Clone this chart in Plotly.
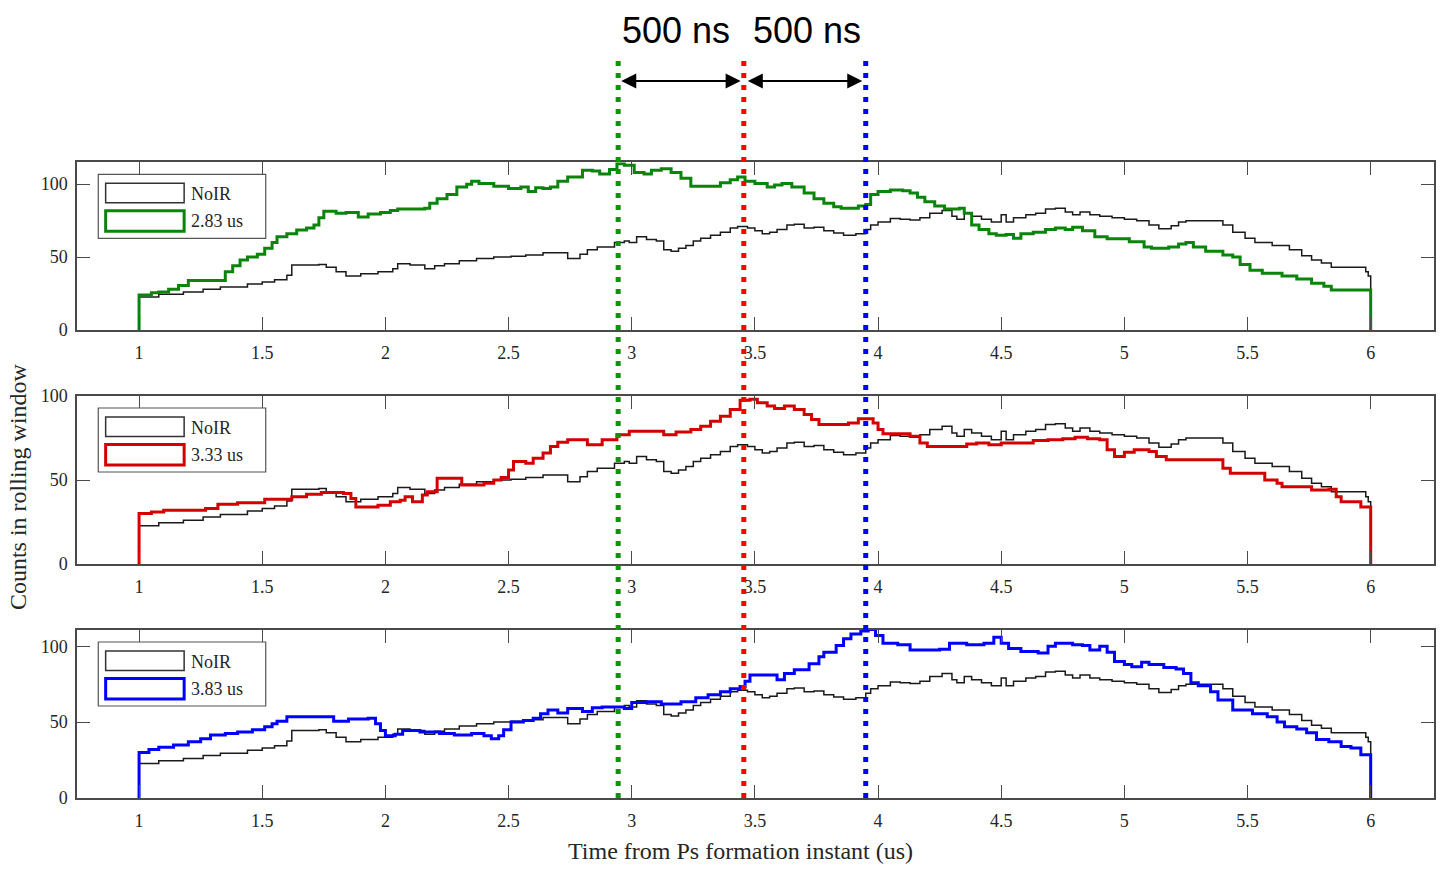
import plotly.graph_objects as go

# ---------------- data ----------------
NOIR_T = [1.00, 1.00, 1.08, 1.18, 1.26, 1.33, 1.44, 1.50, 1.55, 1.60, 1.62, 1.73, 1.76, 1.80, 1.84,
          1.90, 1.97, 2.03, 2.05, 2.10, 2.16, 2.20, 2.24, 2.30, 2.37, 2.44, 2.51, 2.57, 2.64, 2.70,
          2.74, 2.79, 2.82, 2.86, 2.93, 2.97, 2.99, 3.02, 3.06, 3.10, 3.13, 3.16, 3.19, 3.22, 3.25,
          3.28, 3.32, 3.36, 3.40, 3.43, 3.47, 3.50, 3.53, 3.56, 3.59, 3.63, 3.66, 3.70, 3.74, 3.78,
          3.82, 3.86, 3.91, 3.95, 3.97, 4.00, 4.05, 4.09, 4.13, 4.17, 4.21, 4.26, 4.30, 4.32, 4.35,
          4.38, 4.42, 4.46, 4.50, 4.52, 4.55, 4.60, 4.64, 4.68, 4.72, 4.76, 4.79, 4.82, 4.86, 4.90,
          4.95, 5.00, 5.05, 5.10, 5.14, 5.19, 5.22, 5.25, 5.36, 5.40, 5.44, 5.49, 5.53, 5.60, 5.67,
          5.72, 5.76, 5.80, 5.84, 5.97, 5.98, 5.99, 6.00]
NOIR_V = [0, 22.7, 24.5, 26, 28, 29.5, 31.5, 33, 34.5, 37.5, 44.5, 45, 43, 40, 37,
          38.5, 40, 42, 45.5, 44.5, 42, 44, 45.5, 47.5, 49, 50, 50.5, 51.5, 53, 53,
          49, 52, 55, 57, 60, 61, 60, 64, 62, 61, 55, 54, 56, 58, 61,
          63, 65, 67, 70, 71, 70, 68, 66, 67, 69, 72, 72.5, 70, 70.5, 68,
          66.5, 65, 66, 69, 72, 74, 76.5, 76, 75.5, 77, 80, 82, 78, 76, 80,
          78, 76, 74, 79, 74, 77, 79, 80, 83, 83.5, 81, 79, 81, 79, 78,
          77, 76, 75, 72, 69.5, 71.5, 74, 75, 75, 72, 67, 63, 60, 58, 55,
          51, 48, 46, 43, 43, 40, 37, 0]

G_T = [1.00, 1.00, 1.05, 1.08, 1.12, 1.16, 1.20, 1.33, 1.35, 1.38, 1.41, 1.44, 1.48, 1.51, 1.54,
       1.56, 1.60, 1.64, 1.68, 1.71, 1.73, 1.75, 1.80, 1.84, 1.89, 1.93, 1.98, 2.02, 2.05, 2.16,
       2.18, 2.21, 2.25, 2.29, 2.33, 2.35, 2.38, 2.44, 2.50, 2.55, 2.58, 2.61, 2.64, 2.67, 2.70,
       2.74, 2.80, 2.84, 2.87, 2.91, 2.94, 2.97, 3.01, 3.05, 3.08, 3.12, 3.16, 3.20, 3.24, 3.32,
       3.36, 3.40, 3.43, 3.46, 3.50, 3.55, 3.58, 3.61, 3.65, 3.70, 3.74, 3.78, 3.82, 3.85, 3.92,
       3.95, 3.97, 4.00, 4.05, 4.10, 4.13, 4.16, 4.19, 4.23, 4.27, 4.33, 4.35, 4.38, 4.41, 4.45,
       4.48, 4.52, 4.55, 4.58, 4.63, 4.68, 4.72, 4.76, 4.79, 4.83, 4.88, 4.93, 5.02, 5.08, 5.11,
       5.18, 5.22, 5.25, 5.28, 5.33, 5.40, 5.44, 5.47, 5.51, 5.56, 5.64, 5.70, 5.76, 5.81, 5.84,
       6.00]
G_V = [0, 24, 25.5, 26, 28, 30.5, 34, 34, 40, 44, 48, 50, 52, 56, 60,
       64, 66, 68.5, 70, 72, 77, 81.5, 80, 80.5, 77.5, 79.5, 80.5, 82, 83, 83.5,
       87, 90, 93, 98, 100, 102, 100.5, 98.5, 97, 98, 95, 97.5, 97, 98, 102,
       105, 109.5, 109, 107, 110, 114, 113, 108, 107, 109.5, 110.5, 108, 104, 98.5, 98.5,
       101, 103, 105, 102, 100.5, 98, 99.5, 100.5, 98, 94, 90, 87, 84.5, 83.5, 85,
       86, 93, 95, 96, 95.5, 94, 91, 88, 85, 83, 83.5, 80, 72, 69, 66,
       65, 65.5, 63, 66, 67, 69, 70, 69, 70.5, 68, 64, 62.5, 60.5, 57, 56,
       57, 59, 60, 57, 54, 51.5, 50, 45, 41, 39, 37, 35, 32, 30, 27.5,
       0]

R_T = [1.00, 1.00, 1.05, 1.10, 1.27, 1.32, 1.40, 1.51, 1.62, 1.68, 1.74, 1.83, 1.86, 1.88, 1.97,
       2.02, 2.06, 2.08, 2.11, 2.15, 2.17, 2.21, 2.28, 2.31, 2.40, 2.44, 2.47, 2.50, 2.52, 2.57,
       2.60, 2.64, 2.67, 2.70, 2.74, 2.80, 2.82, 2.88, 2.94, 2.99, 3.13, 3.18, 3.24, 3.28, 3.32,
       3.36, 3.40, 3.44, 3.48, 3.51, 3.55, 3.58, 3.62, 3.66, 3.70, 3.73, 3.76, 3.88, 3.92, 3.98,
       4.00, 4.02, 4.13, 4.17, 4.20, 4.36, 4.40, 4.45, 4.50, 4.63, 4.69, 4.75, 4.80, 4.85, 4.90,
       4.93, 4.96, 5.00, 5.04, 5.10, 5.13, 5.17, 5.37, 5.40, 5.43, 5.57, 5.62, 5.64, 5.76, 5.83,
       5.86, 5.88, 5.96, 6.00]
R_V = [0, 30, 31, 32, 33, 35.5, 36.5, 38.5, 40, 41.5, 42.5, 42, 39, 34, 35,
       37, 38, 40, 37, 41, 43, 51, 51, 47, 48, 50, 51.5, 56, 61, 60,
       63, 66, 70, 72.5, 74, 74, 71, 74, 77, 79, 77, 78.5, 80, 82, 85,
       88, 92, 97.5, 98, 96, 94, 92.5, 94, 92, 89, 86, 83, 84, 86.5, 84,
       80, 77.5, 76, 72, 70, 71.5, 72, 71, 72, 73.5, 74, 74.5, 75.5, 74.5, 74,
       68, 64, 66.5, 68, 67, 64, 62, 62, 57, 54, 50, 48, 46, 44, 44.5,
       40, 37, 34, 0]

B_T = [1.00, 1.00, 1.04, 1.08, 1.14, 1.20, 1.25, 1.29, 1.35, 1.40, 1.46, 1.51, 1.54, 1.56, 1.60,
       1.77, 1.79, 1.85, 1.93, 1.96, 1.98, 2.00, 2.04, 2.07, 2.14, 2.22, 2.28, 2.35, 2.40, 2.43,
       2.46, 2.48, 2.51, 2.56, 2.60, 2.63, 2.66, 2.70, 2.74, 2.80, 2.84, 2.88, 2.97, 3.00, 3.06,
       3.12, 3.20, 3.26, 3.31, 3.36, 3.40, 3.44, 3.46, 3.48, 3.55, 3.59, 3.62, 3.66, 3.72, 3.76,
       3.78, 3.83, 3.86, 3.89, 3.93, 3.96, 3.99, 4.02, 4.08, 4.13, 4.18, 4.25, 4.29, 4.36, 4.43,
       4.47, 4.50, 4.53, 4.58, 4.65, 4.69, 4.72, 4.79, 4.83, 4.86, 4.90, 4.93, 4.96, 5.00, 5.03,
       5.07, 5.10, 5.16, 5.21, 5.24, 5.27, 5.30, 5.35, 5.38, 5.44, 5.52, 5.58, 5.62, 5.65, 5.70,
       5.74, 5.78, 5.83, 5.88, 5.92, 5.96, 6.00]
B_V = [0, 30, 32, 33.5, 35, 37, 39, 41.5, 42.5, 43.5, 45, 47, 49, 50.5, 53.5,
       53.5, 50.5, 52, 52.5, 49, 44.5, 41, 42, 44.5, 43.5, 42.5, 41.5, 42.5, 41, 39,
       41, 45, 50, 51, 52.5, 55.5, 58, 56, 59, 57, 59.5, 60, 59, 63, 63.5,
       62, 63.5, 66, 68, 70, 72, 73.5, 77, 81, 81, 78, 82, 84.5, 88.5, 93,
       96, 100.5, 105, 108, 110, 111, 107, 102, 101, 97.5, 97.5, 98, 102, 101, 102,
       106, 102, 98.5, 96.5, 95.5, 100, 102, 101, 100.5, 97.5, 100, 96, 90, 88, 86.5,
       89.5, 88, 86, 85, 82, 76, 74, 70, 64.5, 58, 55.5, 53.5, 50, 47, 45.5,
       43, 38.5, 37, 34, 33, 28.5, 0]

X_TICKS = [1, 1.5, 2, 2.5, 3, 3.5, 4, 4.5, 5, 5.5, 6]
X_TICKTEXT = ["1", "1.5", "2", "2.5", "3", "3.5", "4", "4.5", "5", "5.5", "6"]
Y_TICKS = [0, 50, 100]
Y_TICKTEXT = ["0", "50", "100"]
SERIES_NAMES = ["2.83 us", "3.33 us", "3.83 us"]
MARKER_TIMES = [2.945, 3.455, 3.95]      # dotted vertical markers (us)
ARROW_SPANS = [(2.952, 3.442), (3.466, 3.936)]
ARROW_TEXT = ["500 ns", "500 ns"]
NOIR_NAME = "NoIR"
X_TITLE = "Time from Ps formation instant (us)"
Y_TITLE = "Counts in rolling window"

# ---------------- layout helpers ----------------
W, H = 1447, 873
ML, MR, MT, MB = 77, 11, 162, 75
PW, PH = W - ML - MR, H - MT - MB


def px(x):
    return (x - ML) / PW


def py(y):
    return (H - MB - y) / PH


SERIF = "Liberation Serif, Times New Roman, serif"
SANS = "Liberation Sans, Arial, sans-serif"
AXC = "#4a4a4a"
TXT = "#262626"

colors = ["#0b840b", "#d40000", "#0000ff"]
dot_colors = ["#009900", "#ff0000", "#0000ff"]
series = [(G_T, G_V), (R_T, R_V), (B_T, B_V)]
yranges = [[0, 115], [0, 100], [0, 110.7]]
panels_px = [(162.3, 330), (396, 564), (630, 798)]

fig = go.Figure()
layout = dict(width=W, height=H, margin=dict(l=ML, r=MR, t=MT, b=MB),
              paper_bgcolor="white", plot_bgcolor="white", showlegend=False)

shapes = []
annotations = []
for i in range(3):
    xa = "x" if i == 0 else f"x{i+1}"
    ya = "y" if i == 0 else f"y{i+1}"
    top, bot = panels_px[i]
    fig.add_trace(go.Scatter(x=NOIR_T, y=NOIR_V, mode="lines", line_shape="hv",
                             line=dict(color="#1a1a1a", width=1.5), name=NOIR_NAME,
                             xaxis=xa, yaxis=ya))
    fig.add_trace(go.Scatter(x=series[i][0], y=series[i][1], mode="lines", line_shape="hv",
                             line=dict(color=colors[i], width=3), name=SERIES_NAMES[i],
                             xaxis=xa, yaxis=ya))
    xkey = "xaxis" if i == 0 else f"xaxis{i+1}"
    ykey = "yaxis" if i == 0 else f"yaxis{i+1}"
    layout[xkey] = dict(domain=[0, 1], anchor=ya, range=[0.748, 6.257],
                        tickvals=X_TICKS, ticktext=X_TICKTEXT, ticks="inside", ticklen=13,
                        tickcolor=AXC, tickwidth=1.2, showline=True, linecolor=AXC, linewidth=1.5,
                        mirror="ticks", showgrid=False, zeroline=False,
                        tickfont=dict(family=SERIF, size=18, color=TXT), ticklabelstandoff=6)
    layout[ykey] = dict(domain=[py(bot), py(top)], anchor=xa, range=yranges[i],
                        tickvals=Y_TICKS, ticktext=Y_TICKTEXT, ticks="inside", ticklen=13,
                        tickcolor=AXC, tickwidth=1.2, showline=True, linecolor=AXC, linewidth=1.5,
                        mirror="ticks", showgrid=False, zeroline=False,
                        tickfont=dict(family=SERIF, size=18, color=TXT), ticklabelstandoff=4)
    # legend box (drawn manually to reproduce rectangle symbols)
    shapes.append(dict(type="rect", xref="paper", yref="paper", layer="above",
                       x0=px(98.3), x1=px(266), y0=py(top + 76), y1=py(top + 12),
                       line=dict(color="#555555", width=1.2), fillcolor="white"))
    shapes.append(dict(type="rect", xref="paper", yref="paper", layer="above",
                       x0=px(105.7), x1=px(184.3), y0=py(top + 40.5), y1=py(top + 21),
                       line=dict(color="#333333", width=1.5), fillcolor="rgba(0,0,0,0)"))
    shapes.append(dict(type="rect", xref="paper", yref="paper", layer="above",
                       x0=px(105.7), x1=px(184.3), y0=py(top + 69), y1=py(top + 48.5),
                       line=dict(color=colors[i], width=3), fillcolor="rgba(0,0,0,0)"))
    annotations.append(dict(text=NOIR_NAME, xref="paper", yref="paper", x=px(189), y=py(top + 31.5),
                            xanchor="left", yanchor="middle", showarrow=False,
                            font=dict(family=SERIF, size=18, color=TXT)))
    annotations.append(dict(text=SERIES_NAMES[i], xref="paper", yref="paper", x=px(189),
                            y=py(top + 59), xanchor="left", yanchor="middle", showarrow=False,
                            font=dict(family=SERIF, size=18, color=TXT)))

# dotted vertical markers
tops = [58, 60, 58]
for t, c, tp in zip(MARKER_TIMES, dot_colors, tops):
    shapes.append(dict(type="line", xref="x", yref="paper", x0=t, x1=t, y0=py(798), y1=py(tp),
                       layer="above", line=dict(color=c, width=5, dash="5px,7px")))

# double headed arrows
unit = PW / (6.257 - 0.748)
for (a, b), lab in zip(ARROW_SPANS, ARROW_TEXT):
    annotations.append(dict(x=b, y=py(81), xref="x", yref="paper", text="", showarrow=True,
                            ax=-(b - a) * unit, ay=0, axref="pixel", ayref="pixel",
                            arrowside="end+start", arrowhead=2, startarrowhead=2,
                            arrowsize=1.5, startarrowsize=1.5, arrowwidth=2, arrowcolor="black",
                            standoff=0, startstandoff=0))
annotations.append(dict(text=ARROW_TEXT[0], xref="paper", yref="paper", x=px(677), y=py(30),
                        xanchor="center", yanchor="middle", showarrow=False,
                        font=dict(family=SANS, size=36, color="black")))
annotations.append(dict(text=ARROW_TEXT[1], xref="paper", yref="paper", x=px(808), y=py(30),
                        xanchor="center", yanchor="middle", showarrow=False,
                        font=dict(family=SANS, size=36, color="black")))

# axis titles
annotations.append(dict(text=Y_TITLE, xref="paper", yref="paper", x=px(18), y=py(487),
                        textangle=-90, xanchor="center", yanchor="middle", showarrow=False,
                        font=dict(family=SERIF, size=24, color=TXT)))
annotations.append(dict(text=X_TITLE, xref="paper", yref="paper", x=px(741), y=py(851),
                        xanchor="center", yanchor="middle", showarrow=False,
                        font=dict(family=SERIF, size=24, color=TXT)))

layout["shapes"] = shapes
layout["annotations"] = annotations
fig.update_layout(**layout)

fig.write_html("out.html", config={"displayModeBar": False},
               post_script="document.body.style.margin='0';document.body.style.overflow='hidden';")
